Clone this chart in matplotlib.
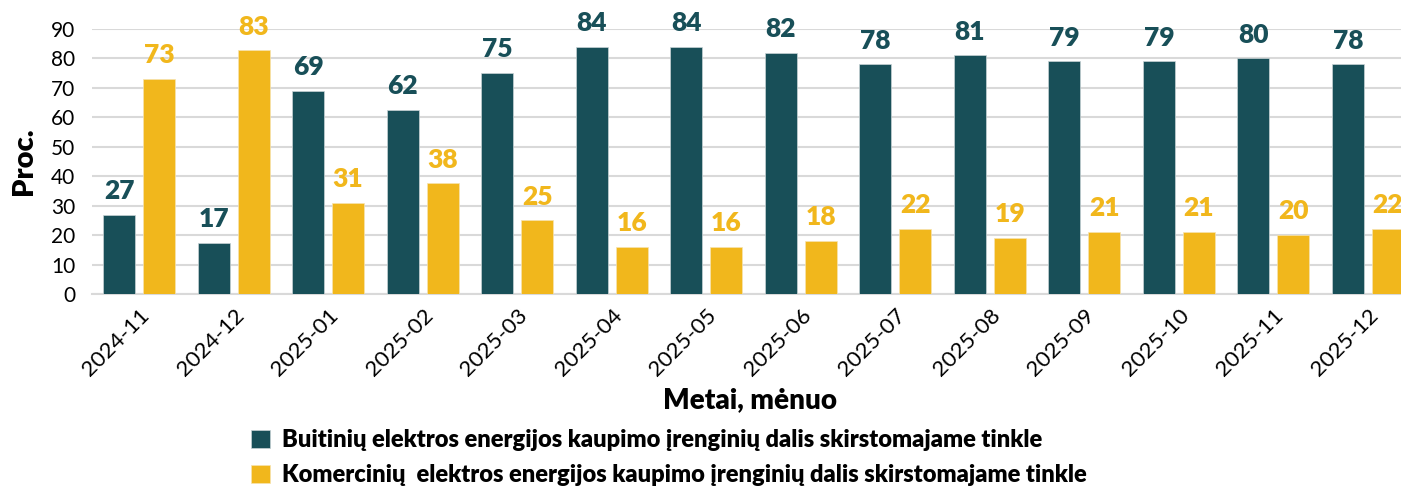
import matplotlib.pyplot as plt
import numpy as np

plt.rcParams['font.family'] = ['Lato', 'DejaVu Sans']

months = ['2024-11', '2024-12', '2025-01', '2025-02', '2025-03', '2025-04', '2025-05',
          '2025-06', '2025-07', '2025-08', '2025-09', '2025-10', '2025-11', '2025-12']
household = [27, 17.3, 69, 62.4, 75, 84, 84, 82, 78, 81, 79, 79, 80, 78]
commercial = [73, 82.7, 31, 37.6, 25, 16, 16, 18, 22, 19, 21, 21, 20, 22]

dark = '#184F58'
yellow = '#F1B71C'

fig = plt.figure(figsize=(14.01, 4.88), dpi=100)
# right edge of plot area runs past the figure, as in the reference
ax = fig.add_axes([92 / 1401, 194 / 488, 1323 / 1401, 265 / 488])

x = np.arange(len(months))
w = 0.34
off = 0.21
b1 = ax.bar(x - off, household, w, color=dark, edgecolor='#C8D3D5', linewidth=0.5, zorder=3,
            label='Buitinių elektros energijos kaupimo įrenginių dalis skirstomajame tinkle')
b2 = ax.bar(x + off, commercial, w, color=yellow, edgecolor='#F6E3B0', linewidth=0.5, zorder=3,
            label='Komercinių  elektros energijos kaupimo įrenginių dalis skirstomajame tinkle')

for xi, v in zip(x, household):
    ax.text(xi - off, v + 4, f'{v:.0f}', ha='center', va='bottom', color=dark,
            fontsize=19, fontweight='heavy', clip_on=False)
for xi, v in zip(x, commercial):
    ax.text(xi + off, v + 4, f'{v:.0f}', ha='center', va='bottom', color=yellow,
            fontsize=19, fontweight='heavy', clip_on=False)

ax.set_xlim(-0.5, len(months) - 0.5)
ax.set_ylim(0, 90)
ax.set_yticks(range(0, 91, 10))
ax.yaxis.grid(True, color='#D9D9D9', linewidth=1.5, zorder=0)
ax.set_axisbelow(True)
for s in ['top', 'right', 'left']:
    ax.spines[s].set_visible(False)
ax.spines['bottom'].set_color('#D9D9D9')
ax.spines['bottom'].set_linewidth(1.5)
ax.tick_params(axis='both', length=0)
ax.tick_params(axis='y', pad=12, labelsize=15)
ax.set_xticks(x)
ax.set_xticklabels(months, rotation=45, ha='right', rotation_mode='anchor')
ax.tick_params(axis='x', pad=8, labelsize=16)

ax.set_ylabel('Proc.', fontsize=21, fontweight='heavy', labelpad=10)
fig.text(750 / 1401, 1 - 400 / 488, 'Metai, mėnuo', ha='center', va='center',
         fontsize=20, fontweight='heavy')

fig.legend(handles=[b1, b2], loc='upper left', bbox_to_anchor=(239 / 1401, 1 - 417 / 488),
           frameon=False, prop={'size': 17, 'weight': 'heavy'}, handlelength=0.8,
           handleheight=0.8, handletextpad=0.5, labelspacing=0.55, borderpad=0)

fig.savefig('out.png', dpi=100)
